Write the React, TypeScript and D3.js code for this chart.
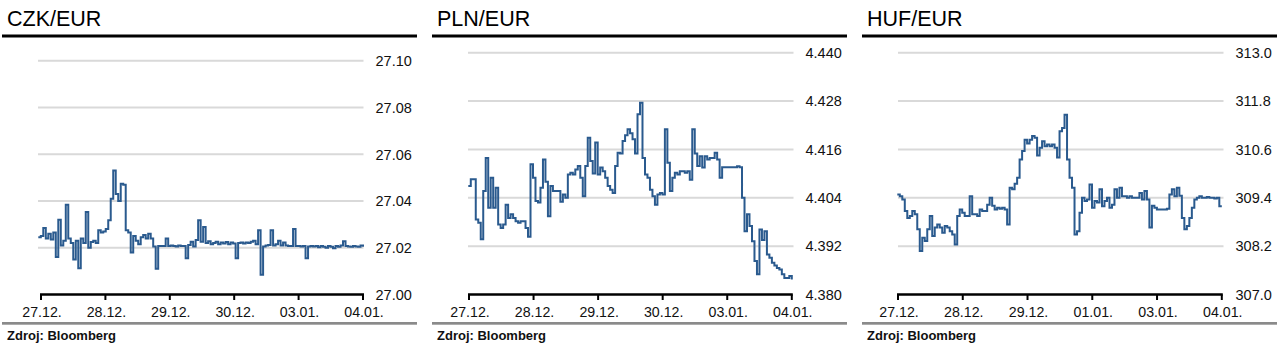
import React from 'react';
import * as d3 from 'd3';

// ---------- data ----------
const titles = ['CZK/EUR', 'PLN/EUR', 'HUF/EUR'];

const czkTicks = [27.0, 27.02, 27.04, 27.06, 27.08, 27.1];
const plnTicks = [4.38, 4.392, 4.404, 4.416, 4.428, 4.44];
const hufTicks = [307.0, 308.2, 309.4, 310.6, 311.8, 313.0];

const czkDates = ['27.12.', '28.12.', '29.12.', '30.12.', '03.01.', '04.01.'];
const plnDates = ['27.12.', '28.12.', '29.12.', '30.12.', '03.01.', '04.01.'];
const hufDates = ['27.12.', '28.12.', '29.12.', '01.01.', '03.01.', '04.01.'];

const czkValues = [
  27.0245, 27.025, 27.0285, 27.024, 27.026, 27.0235, 27.0265, 27.016, 27.032, 27.021,
  27.023, 27.0384, 27.024, 27.022, 27.015, 27.023, 27.0112, 27.024, 27.022, 27.0353,
  27.02, 27.0225, 27.023, 27.022, 27.0275, 27.0265, 27.027, 27.028, 27.0318, 27.041,
  27.0531, 27.043, 27.04, 27.0474, 27.047, 27.0275, 27.0265, 27.018, 27.025, 27.023,
  27.0215, 27.0245, 27.0255, 27.024, 27.026, 27.024, 27.0205, 27.011, 27.0207, 27.0207,
  27.0207, 27.024, 27.0207, 27.021, 27.0207, 27.0205, 27.021, 27.0207, 27.0207, 27.0155,
  27.0212, 27.0226, 27.0205, 27.0233, 27.0318, 27.0226, 27.0289, 27.022, 27.0228, 27.0215,
  27.022, 27.0226, 27.0215, 27.0222, 27.0218, 27.0225, 27.0215, 27.0222, 27.0218, 27.0155,
  27.022, 27.0222, 27.0218, 27.0222, 27.022, 27.0226, 27.023, 27.0215, 27.0275, 27.0084,
  27.0205, 27.021, 27.0212, 27.0275, 27.021, 27.0215, 27.023, 27.021, 27.0222, 27.021,
  27.0207, 27.0207, 27.028, 27.0207, 27.0207, 27.0205, 27.0207, 27.0155, 27.0205, 27.0207,
  27.0205, 27.0207, 27.0202, 27.0207, 27.0204, 27.02, 27.0207, 27.0204, 27.0198, 27.0207,
  27.0204, 27.021, 27.0228, 27.0207, 27.0205, 27.0204, 27.0207, 27.0205, 27.0204, 27.021,
  27.0204,
];

const plnValues = [
  4.4069, 4.4086, 4.4086, 4.3986, 4.3978, 4.3937, 4.4057, 4.4139, 4.4015, 4.409,
  4.4015, 4.4065, 4.3974, 4.3965, 4.3974, 4.4023, 4.399, 4.3999, 4.399, 4.3982,
  4.3978, 4.3982, 4.3982, 4.3965, 4.3943, 4.4123, 4.409, 4.4032, 4.4028, 4.4065,
  4.4135, 4.408, 4.3994, 4.4069, 4.4057, 4.4057, 4.4057, 4.403, 4.4048, 4.404,
  4.4098, 4.4102, 4.4098, 4.411, 4.4119, 4.409, 4.4044, 4.4119, 4.4189, 4.4131,
  4.41, 4.4177, 4.4098, 4.4115, 4.4106, 4.409, 4.4069, 4.406, 4.4052, 4.4119,
  4.4152, 4.415, 4.4181, 4.4195, 4.421, 4.42, 4.4185, 4.415, 4.4247, 4.4276,
  4.4139, 4.4098, 4.409, 4.406, 4.4044, 4.4023, 4.4048, 4.4052, 4.4048, 4.421,
  4.4127, 4.4057, 4.409, 4.4102, 4.4098, 4.4106, 4.4106, 4.4102, 4.4106, 4.4085,
  4.421, 4.415, 4.4119, 4.4143, 4.4115, 4.4143, 4.4135, 4.4139, 4.4139, 4.4152,
  4.4135, 4.409, 4.4116, 4.4116, 4.4116, 4.4116, 4.4116, 4.4116, 4.4118, 4.4116,
  4.404, 4.3957, 4.3999, 4.397, 4.3932, 4.3883, 4.385, 4.3961, 4.3935, 4.3957,
  4.3899, 4.3891, 4.3879, 4.3872, 4.3866, 4.3862, 4.385, 4.3841, 4.3841, 4.3846,
  4.3837,
];

const hufValues = [
  309.48, 309.44, 309.36, 309.07, 308.9, 308.95, 309.07, 308.99, 308.62, 308.08,
  308.41, 308.33, 308.62, 308.95, 308.45, 308.66, 308.74, 308.66, 308.53, 308.7,
  308.66, 308.57, 308.49, 308.24, 308.95, 309.11, 309.03, 308.95, 308.95, 309.44,
  308.99, 308.99, 308.95, 309.11, 309.07, 309.07, 309.23, 309.4, 309.2, 309.11,
  309.15, 309.13, 309.15, 309.11, 308.74, 309.65, 309.61, 309.75, 309.9, 310.35,
  310.56, 310.84, 310.75, 310.84, 310.93, 310.89, 310.45, 310.64, 310.8, 310.68,
  310.72, 310.68, 310.72, 310.64, 310.4, 311.05, 311.13, 311.46, 310.35, 309.9,
  309.65, 308.49, 308.57, 309.03, 309.4, 309.32, 309.36, 309.73, 309.15, 309.32,
  309.28, 309.61, 309.19, 309.32, 309.4, 309.15, 309.23, 309.61, 309.4, 309.65,
  309.44, 309.44, 309.4, 309.44, 309.4, 309.4, 309.4, 309.52, 309.36, 309.57,
  309.36, 308.66, 309.2, 309.15, 309.11, 309.11, 309.11, 309.11, 309.13, 309.48,
  309.61, 309.44, 309.65, 309.45, 308.9, 308.62, 308.7, 308.9, 309.15, 309.36,
  309.4, 309.44, 309.4, 309.4, 309.42, 309.4, 309.4, 309.38, 309.4, 309.19,
  309.19,
];

const sourceLabel = 'Zdroj: Bloomberg';

// ---------- layout ----------
const FONT = '"Liberation Sans", Arial, Helvetica, sans-serif';
const LINE_COLOR = '#2a5a8e';

const panels = [
  { title: titles[0], ticks: czkTicks, dates: czkDates, values: czkValues, fmt: '.2f',
    x: 2, yTop: 60.8, tick0: 39, tick5: 361, lineStart: 36.3 },
  { title: titles[1], ticks: plnTicks, dates: plnDates, values: plnValues, fmt: '.3f',
    x: 432, yTop: 52.7, tick0: 37, tick5: 359.8, lineStart: 36.3 },
  { title: titles[2], ticks: hufTicks, dates: hufDates, values: hufValues, fmt: '.1f',
    x: 862, yTop: 52.7, tick0: 36, tick5: 359.8, lineStart: 35.3 },
];

const PANEL_W = 415;
const Y_BOTTOM = 294.5;
const GRID_L = 36;
const GRID_R = 361.5;

function Panel({ p }: { p: any }) {
  const y = d3.scaleLinear()
    .domain([p.ticks[0], p.ticks[p.ticks.length - 1]])
    .range([Y_BOTTOM, p.yTop]);
  const xTick = d3.scaleLinear().domain([0, p.dates.length - 1]).range([p.tick0, p.tick5]);
  const xIdx = d3.scaleLinear().domain([0, p.values.length - 1]).range([p.lineStart, p.tick5]);
  const line = d3.line<number>()
    .x((_, i) => xIdx(i))
    .y((d) => y(d))
    .curve(d3.curveStepAfter);
  const f = d3.format(p.fmt);

  return (
    <g transform={`translate(${p.x},0)`}>
      <text x={5} y={25.5} fontSize={21.5} fontFamily={FONT} fill="#000">{p.title}</text>
      <rect x={0} y={34.5} width={PANEL_W} height={3} fill="#000" />
      {p.ticks.slice(1).map((t: number) => (
        <line key={t} x1={GRID_L} x2={GRID_R} y1={y(t)} y2={y(t)} stroke="#d9d9d9" strokeWidth={2} />
      ))}
      {p.ticks.map((t: number) => (
        <text key={'l' + t} x={373.5} y={y(t)} dy="0.36em" fontSize={14.5} fontFamily={FONT} fill="#111">
          {f(t)}
        </text>
      ))}
      <path d={line(p.values) || ''} fill="none" stroke={LINE_COLOR} strokeWidth={2} />
      <line x1={p.tick0 - 1} x2={p.tick5 + 1} y1={Y_BOTTOM} y2={Y_BOTTOM} stroke="#000" strokeWidth={2.5} />
      {p.dates.map((d: string, i: number) => (
        <g key={d + i}>
          <line x1={xTick(i)} x2={xTick(i)} y1={Y_BOTTOM} y2={Y_BOTTOM + 5.5} stroke="#000" strokeWidth={2} />
          <text x={xTick(i) + 1} y={316.5} textAnchor="middle" fontSize={14.2} fontFamily={FONT} fill="#111">
            {d}
          </text>
        </g>
      ))}
      <rect x={0} y={322} width={PANEL_W} height={2.7} fill="#8a8a8a" />
      <text x={5} y={340} fontSize={13} fontWeight="bold" fontFamily={FONT} fill="#111">{sourceLabel}</text>
    </g>
  );
}

export default function App() {
  return (
    <svg width={1288} height={359} style={{ position: 'absolute', left: 0, top: 0, background: '#fff' }}>
      <rect width={1288} height={359} fill="#fff" />
      {panels.map((p) => <Panel key={p.title} p={p} />)}
    </svg>
  );
}
